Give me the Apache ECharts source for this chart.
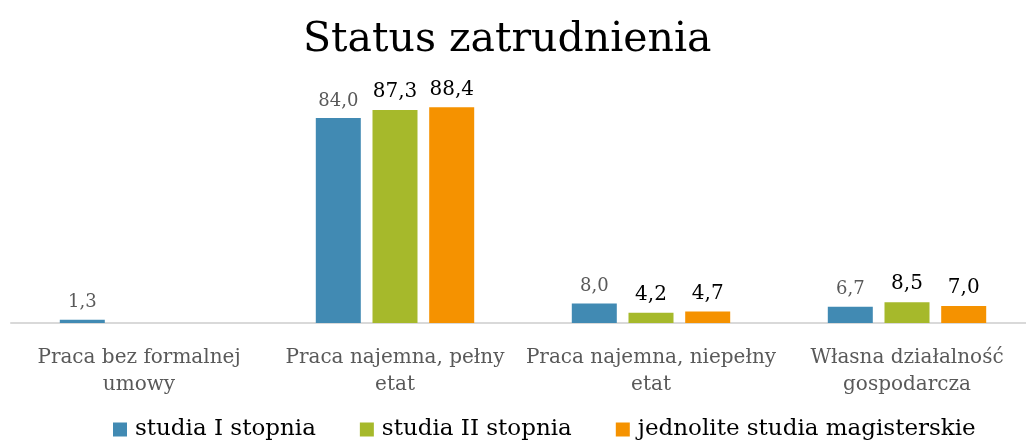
<!DOCTYPE html>
<html>
<head>
<meta charset="utf-8">
<script src="https://cdn.jsdelivr.net/npm/echarts@6/dist/echarts.min.js"></script>
<style>
  html, body { margin: 0; padding: 0; background: #fff; }
  #chart { width: 1026px; height: 441px; }
</style>
</head>
<body>
<div id="chart"></div>
<script>
  const categories = [
    'Praca bez formalnej\numowy',
    'Praca najemna, pełny\netat',
    'Praca najemna, niepełny\netat',
    'Własna działalność\ngospodarcza',
  ];
  const seriesNames = ['studia I stopnia', 'studia II stopnia', 'jednolite studia magisterskie'];
  const studiaI = [1.3, 84.0, 8.0, 6.7];
  const studiaII = [null, 87.3, 4.2, 8.5];
  const jednolite = [null, 88.4, 4.7, 7.0];
  const colors = ['#418ab3', '#a6b92b', '#f59200'];

  const font = '"DejaVu Serif", "Liberation Serif", serif';
  const fmt = (p) => (p.value == null ? '' : p.value.toFixed(1).replace('.', ','));

  function makeSeries(name, data, i) {
    return {
      name: name,
      type: 'bar',
      data: data,
      barWidth: 45,
      barGap: '26%',
      itemStyle: { color: colors[i] },
      label: {
        show: true,
        position: 'top',
        distance: 8,
        formatter: fmt,
        fontFamily: font,
        fontSize: i === 0 ? 18 : 20,
        color: i === 0 ? '#595959' : '#000',
      },
    };
  }

  const chart = echarts.init(document.getElementById('chart'));
  chart.setOption({
    animation: false,
    title: {
      text: 'Status zatrudnienia',
      left: 298,
      top: 15,
      textStyle: { fontFamily: font, fontSize: 41, fontWeight: 'normal', color: '#000' },
    },
    legend: {
      data: seriesNames,
      top: 413,
      left: 108,
      itemWidth: 14,
      itemHeight: 14,
      itemGap: 44,
      icon: 'rect',
      textStyle: { fontFamily: font, fontSize: 23, color: '#000', padding: [0, 0, 0, 3] },
    },
    grid: { left: 11, width: 1024, top: 79, bottom: 118, outerBoundsMode: 'none' },
    xAxis: {
      type: 'category',
      data: categories,
      axisTick: { show: false },
      axisLine: { lineStyle: { color: '#d9d9d9', width: 2 } },
      axisLabel: {
        fontFamily: font,
        fontSize: 20,
        color: '#595959',
        margin: 21,
        lineHeight: 27,
        interval: 0,
      },
    },
    yAxis: {
      type: 'value',
      min: 0,
      max: 100,
      show: false,
      splitLine: { show: false },
    },
    series: [
      makeSeries(seriesNames[0], studiaI, 0),
      makeSeries(seriesNames[1], studiaII, 1),
      makeSeries(seriesNames[2], jednolite, 2),
    ],
  });
</script>
</body>
</html>
